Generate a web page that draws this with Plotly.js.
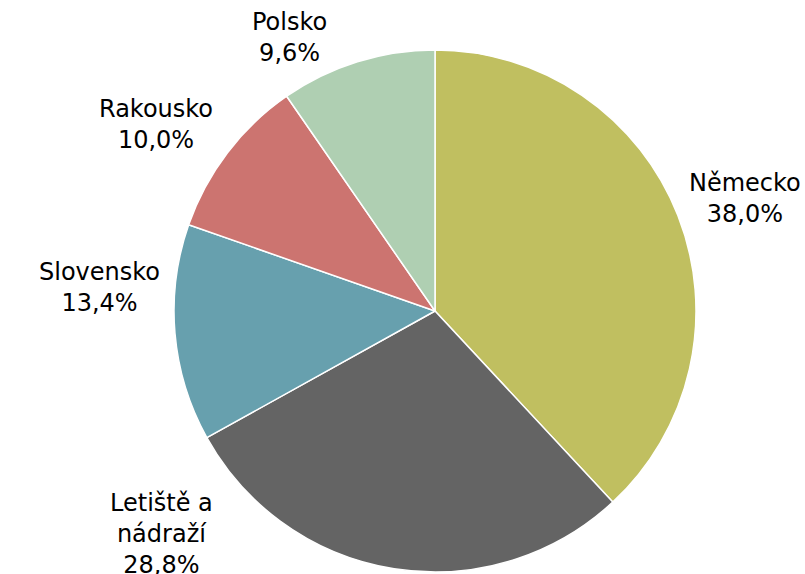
<!DOCTYPE html>
<html>
<head>
<meta charset="utf-8">
<script src="https://cdn.plot.ly/plotly-3.0.1.min.js"></script>
<style>html,body{margin:0;padding:0;background:#fff;}#chart{width:805px;height:574px;}</style>
</head>
<body>
<div id="chart"></div>
<script>
const categories = ["Německo", "Letiště a<br>nádraží", "Slovensko", "Rakousko", "Polsko"];
const shares = [38.0, 28.8, 13.4, 10.0, 9.6];
const colors = ["#C0BF60", "#646464", "#67A0AE", "#CC7470", "#AFCFB2"];
// label anchor positions (pixels in the 805x574 canvas), layout only
const labelPos = [[745, 198], [161, 534], [99, 287], [156, 124], [289, 37]];

const W = 805, H = 574;
function fmt(v) { return v.toFixed(1).replace('.', ',') + '%'; }

const annotations = categories.map((c, i) => ({
  x: labelPos[i][0] / W, y: 1 - labelPos[i][1] / H,
  xref: 'paper', yref: 'paper', xanchor: 'center', yanchor: 'middle',
  text: c + '<br>' + fmt(shares[i]), showarrow: false,
  font: {family: 'DejaVu Sans, Verdana, sans-serif', size: 24, color: '#000'}
}));

const trace = {
  type: 'pie', labels: categories.map(c => c.replace('<br>', ' ')), values: shares,
  sort: false, direction: 'clockwise', rotation: 0,
  marker: {colors: colors, line: {color: '#ffffff', width: 1.5}},
  textinfo: 'none', hoverinfo: 'label+percent',
  domain: {x: [174 / W, 696 / W], y: [2 / H, 524 / H]}
};

Plotly.newPlot('chart', [trace], {
  width: W, height: H, margin: {l: 0, r: 0, t: 0, b: 0},
  showlegend: false, paper_bgcolor: '#fff', annotations: annotations,
  separators: ', '
}, {displayModeBar: false, staticPlot: true});
</script>
</body>
</html>
